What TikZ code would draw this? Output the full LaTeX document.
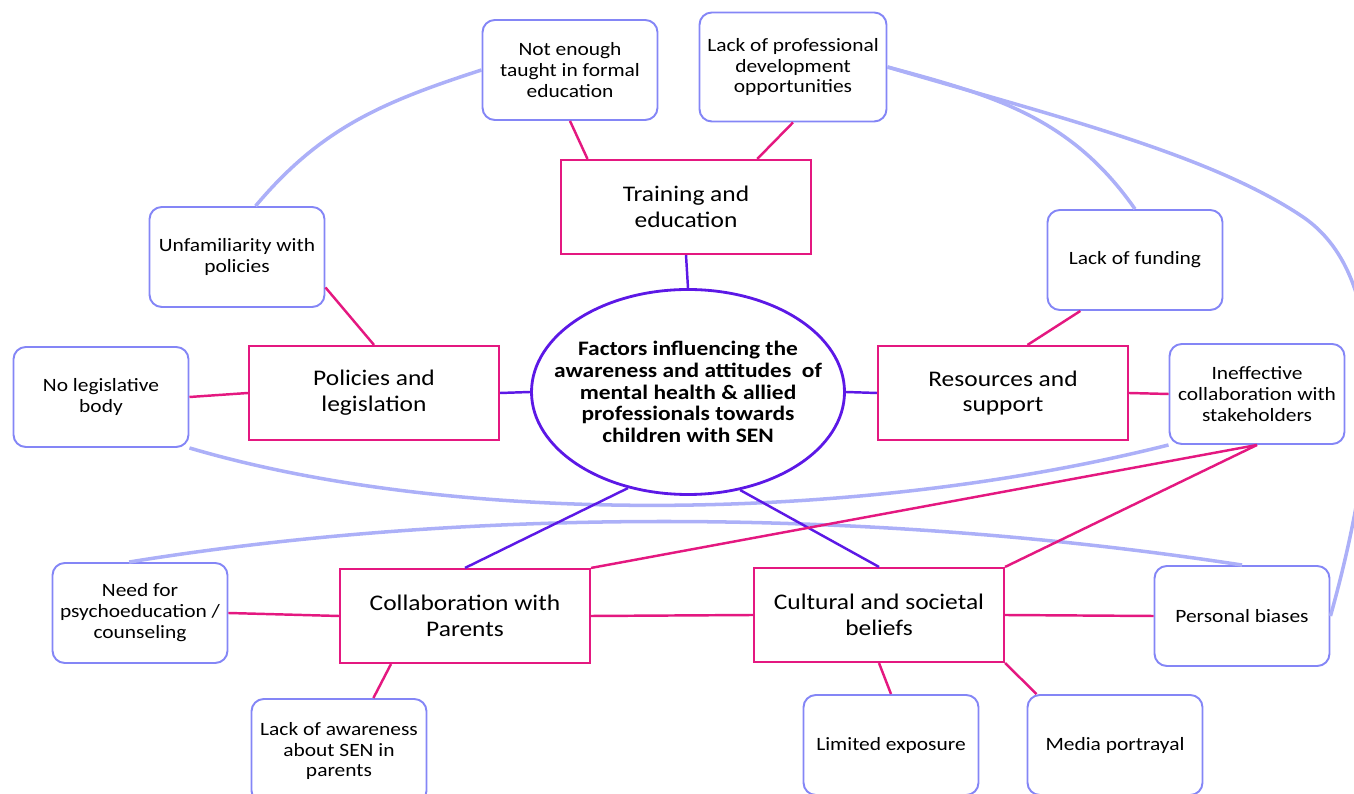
\documentclass[tikz,border=0pt]{standalone}
\usepackage{fontspec}
\setmainfont{Carlito}[FakeStretch=1.14]
\usetikzlibrary{shapes.geometric}
\definecolor{linkpink}{RGB}{228,24,128}
\definecolor{hubpurple}{RGB}{92,24,230}
\definecolor{leafblue}{RGB}{132,134,246}
\definecolor{tieblue}{RGB}{172,176,248}

\begin{document}
\begin{tikzpicture}[
    leaf/.style={draw=leafblue, line width=1.1pt, rounded corners=7pt,
        minimum width=3.5cm, minimum height=2cm, align=center,
        font=\fontsize{10.7}{11.9}\selectfont},
    factor/.style={draw=linkpink, line width=1.2pt,
        minimum width=5cm, minimum height=1.88cm, align=center,
        font=\fontsize{12.7}{14.7}\selectfont},
    hub/.style={draw=hubpurple, line width=1.6pt, ellipse, inner sep=0pt,
        minimum width=6.26cm, minimum height=4.1cm},
    hubtext/.style={align=center, font=\bfseries\fontsize{11.7}{12.3}\selectfont},
    pinkline/.style={draw=linkpink, line width=1.4pt},
    purpleline/.style={draw=hubpurple, line width=1.4pt},
    tie/.style={draw=tieblue, line width=2pt}
]
    \useasboundingbox (0,0) rectangle (27.08,15.88);

    % centre and main factors
    \node[hub, label={[hubtext]center:Factors influencing the\\
        awareness and attitudes\ \ of\\ mental health \& allied\\
        professionals towards\\ children with SEN}] (c) at (13.76,8.04) {};
    \node[factor] (te) at (13.72,11.74) {Training and\\ education};
    \node[factor] (pl) at (7.48,8.02) {Policies and\\ legislation};
    \node[factor] (rs) at (20.06,8.02) {Resources and\\ support};
    \node[factor] (cp) at (9.30,3.56) {Collaboration with\\ Parents};
    \node[factor] (cs) at (17.58,3.58) {Cultural and societal\\ beliefs};

    % leaves
    \node[leaf] (nt) at (11.40,14.48) {Not enough\\ taught in formal\\ education};
    \node[leaf, minimum width=3.74cm, minimum height=2.18cm] (lp) at (15.86,14.54)
        {Lack of professional\\ development\\ opportunities};
    \node[leaf] (uf) at (4.74,10.74) {Unfamiliarity with\\ policies};
    \node[leaf] (lf) at (22.70,10.68) {Lack of funding};
    \node[leaf] (nl) at (2.02,7.94) {No legislative\\ body};
    \node[leaf] (ie) at (25.14,8.00) {Ineffective\\ collaboration with\\ stakeholders};
    \node[leaf] (np) at (2.80,3.62) {Need for\\ psychoeducation /\\ counseling};
    \node[leaf] (pb) at (24.84,3.56) {Personal biases};
    \node[leaf, minimum height=2.08cm] (la) at (6.78,0.86)
        {Lack of awareness\\ about SEN in\\ parents};
    \node[leaf] (le) at (17.82,0.98) {Limited exposure};
    \node[leaf] (mp) at (22.30,0.98) {Media portrayal};

    % light cross links
    \draw[tie] (nt.west) to[out=198, in=50] (uf.70);
    \draw[tie] (lp.east) to[out=-15, in=125] (lf.north);
    \draw[tie] (lp.east) .. controls (21.00,13.58) and (24.20,12.80) .. (26.06,11.54)
        .. controls (27.70,10.42) and (27.70,7.48) .. (pb.east);
    \draw[tie] (nl.south east) .. controls (9.00,5.38) and (17.00,5.38) .. (ie.south west);
    \draw[tie] (np.102) .. controls (9.00,5.68) and (17.00,5.78) .. (pb.north);

    % centre to factors
    \draw[purpleline] (te.south) -- (c.north);
    \draw[purpleline] (pl.east) -- (c.west);
    \draw[purpleline] (c.east) -- (rs.west);
    \draw[purpleline] (c.238) -- (cp.north);
    \draw[purpleline] (c.-62) -- (cs.north);

    % factors to leaves
    \draw[pinkline] (nt.south) -- (te.154);
    \draw[pinkline] (lp.south) -- (te.34);
    \draw[pinkline] (uf.-19) -- (pl.north);
    \draw[pinkline] (nl.east) -- (pl.west);
    \draw[pinkline] (lf.-137) -- (rs.63);
    \draw[pinkline] (rs.east) -- (ie.west);
    \draw[pinkline] (ie.south) -- (cp.north east);
    \draw[pinkline] (ie.south) -- (cs.north east);
    \draw[pinkline] (np.east) -- (cp.west);
    \draw[pinkline] (cp.east) -- (cs.west);
    \draw[pinkline] (cs.east) -- (pb.west);
    \draw[pinkline] (cs.south) -- (le.north);
    \draw[pinkline] (cs.south east) -- (mp.147);
    \draw[pinkline] (cp.213) -- (la.57);
\end{tikzpicture}
\end{document}
